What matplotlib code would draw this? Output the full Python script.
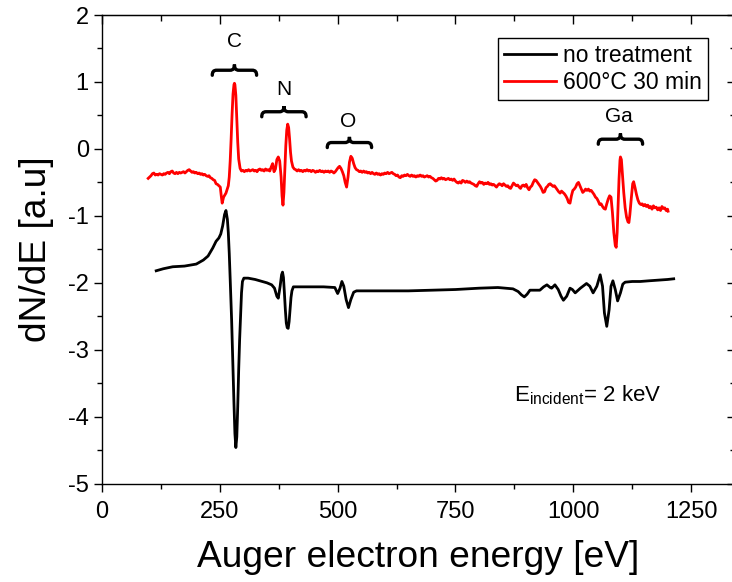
import numpy as np
import matplotlib
matplotlib.use('Agg')
import matplotlib.pyplot as plt
from matplotlib.path import Path
from matplotlib.patches import PathPatch
from matplotlib.ticker import MultipleLocator

plt.rcParams['font.family'] = ['Liberation Sans', 'DejaVu Sans']
plt.rcParams['mathtext.fontset'] = 'custom'
plt.rcParams['mathtext.rm'] = 'Liberation Sans'
plt.rcParams['axes.unicode_minus'] = False

# AES spectrum, untreated sample (eV, dN/dE)
energy_untreated = [115, 130, 150, 175, 200, 215, 225, 235, 242, 248, 252, 256, 260, 263, 266,
                    268, 270, 272, 275, 278, 280, 282, 284, 286, 288, 290, 292, 294, 296, 298,
                    301, 310, 325, 340, 350, 360, 366, 371, 374, 378, 381, 383, 385, 387, 389,
                    391, 393, 395, 397, 399, 401, 403, 406, 415, 440, 470, 494, 500, 505, 509,
                    513, 518, 523, 528, 534, 540, 560, 590, 620, 650, 700, 750, 800, 840, 872,
                    883, 890, 896, 902, 908, 918, 929, 937, 944, 951, 954, 961, 968, 974, 979,
                    986, 993, 998, 1004, 1015, 1028, 1035, 1042, 1050, 1057, 1062, 1066, 1071,
                    1076, 1080, 1084, 1089, 1094, 1100, 1105, 1110, 1125, 1142, 1160, 1180, 1200,
                    1213]
signal_untreated = [-1.82, -1.79, -1.76, -1.75, -1.72, -1.66, -1.60, -1.48, -1.38, -1.33, -1.27,
                    -1.15, -0.98, -0.92, -1.05, -1.25, -1.56, -1.95, -2.55, -3.30, -3.80, -4.25,
                    -4.46, -4.30, -3.85, -3.30, -2.85, -2.50, -2.15, -1.98, -1.93, -1.93, -1.95,
                    -1.98, -2.00, -2.03, -2.08, -2.20, -2.23, -2.05, -1.88, -1.84, -1.92, -2.15,
                    -2.40, -2.60, -2.67, -2.68, -2.58, -2.40, -2.22, -2.12, -2.06, -2.06, -2.06,
                    -2.06, -2.07, -2.16, -2.08, -1.98, -2.05, -2.25, -2.37, -2.25, -2.14, -2.12,
                    -2.12, -2.12, -2.12, -2.12, -2.11, -2.10, -2.08, -2.07, -2.09, -2.13, -2.18,
                    -2.21, -2.17, -2.11, -2.11, -2.11, -2.06, -2.03, -2.07, -2.08, -2.03, -2.10,
                    -2.20, -2.26, -2.20, -2.08, -2.10, -2.15, -2.08, -2.01, -2.05, -2.15, -2.05,
                    -1.88, -2.05, -2.45, -2.65, -2.40, -2.05, -1.97, -2.10, -2.27, -2.15, -2.02,
                    -1.99, -1.98, -1.98, -1.97, -1.96, -1.95, -1.94]

# AES spectrum after annealing at 600 C for 30 min
energy_annealed = [98, 101, 104, 107, 110, 113, 116, 119, 122, 125, 128, 131, 134, 137, 140, 143,
                   146, 149, 152, 155, 158, 161, 164, 167, 170, 173, 176, 179, 182, 185, 188, 191,
                   194, 197, 200, 203, 206, 209, 212, 215, 218, 221, 224, 227, 230, 233, 236, 239,
                   242, 245, 248, 251, 253, 255, 258, 263, 268, 270, 272, 274, 276, 278, 280, 281,
                   282, 284, 286, 288, 290, 293, 296, 299, 302, 305, 308, 311, 314, 317, 320, 323,
                   326, 329, 332, 335, 338, 341, 344, 347, 350, 353, 356, 359, 362, 365, 368, 371,
                   374, 377, 380, 382, 384, 386, 388, 390, 392, 394, 396, 398, 400, 402, 405, 408,
                   411, 414, 417, 420, 423, 426, 429, 432, 435, 438, 441, 444, 447, 450, 453, 456,
                   459, 462, 465, 468, 471, 474, 477, 480, 483, 486, 489, 492, 495, 498, 501, 504,
                   507, 510, 513, 516, 519, 522, 525, 528, 531, 534, 537, 540, 543, 546, 549, 552,
                   555, 558, 561, 564, 567, 570, 573, 576, 579, 582, 585, 588, 591, 594, 597, 600,
                   603, 606, 609, 612, 615, 618, 621, 624, 627, 630, 633, 636, 639, 642, 645, 648,
                   651, 654, 657, 660, 663, 666, 669, 672, 675, 678, 681, 684, 687, 690, 693, 696,
                   699, 702, 705, 708, 711, 714, 717, 720, 723, 726, 729, 732, 735, 738, 741, 744,
                   747, 750, 753, 756, 759, 762, 765, 768, 771, 774, 777, 780, 783, 786, 789, 792,
                   795, 798, 801, 804, 807, 810, 813, 816, 819, 822, 825, 828, 831, 834, 837, 840,
                   843, 846, 849, 852, 855, 858, 861, 864, 867, 870, 873, 876, 879, 882, 885, 888,
                   891, 894, 897, 900, 903, 906, 909, 912, 915, 918, 921, 924, 927, 930, 933, 936,
                   939, 942, 945, 948, 951, 954, 957, 960, 963, 966, 969, 972, 975, 978, 981, 984,
                   987, 990, 993, 996, 999, 1002, 1005, 1008, 1011, 1014, 1017, 1020, 1023, 1026,
                   1029, 1032, 1035, 1038, 1041, 1044, 1047, 1050, 1053, 1056, 1059, 1062, 1065,
                   1068, 1071, 1074, 1077, 1080, 1083, 1086, 1089, 1091, 1093, 1095, 1097, 1099,
                   1100, 1102, 1104, 1107, 1110, 1113, 1116, 1118, 1120, 1123, 1126, 1128, 1131,
                   1134, 1137, 1140, 1143, 1146, 1149, 1152, 1155, 1158, 1161, 1164, 1167, 1170,
                   1173, 1176, 1179, 1182, 1185, 1188, 1191, 1194, 1197, 1200, 1201]
signal_annealed = [-0.44, -0.42, -0.40, -0.37, -0.36, -0.39, -0.38, -0.39, -0.37, -0.38, -0.39,
                   -0.37, -0.38, -0.36, -0.35, -0.37, -0.34, -0.33, -0.36, -0.37, -0.35, -0.37,
                   -0.35, -0.36, -0.35, -0.34, -0.36, -0.34, -0.32, -0.31, -0.33, -0.35, -0.34,
                   -0.36, -0.35, -0.37, -0.36, -0.38, -0.37, -0.39, -0.38, -0.40, -0.41, -0.40,
                   -0.43, -0.44, -0.46, -0.47, -0.52, -0.53, -0.55, -0.57, -0.70, -0.81, -0.72,
                   -0.66, -0.55, -0.42, -0.18, 0.15, 0.52, 0.82, 0.96, 0.98, 0.96, 0.80, 0.45,
                   0.10, -0.15, -0.29, -0.33, -0.32, -0.34, -0.32, -0.33, -0.31, -0.33, -0.32,
                   -0.31, -0.33, -0.32, -0.34, -0.31, -0.30, -0.32, -0.31, -0.33, -0.30, -0.32,
                   -0.31, -0.33, -0.27, -0.22, -0.34, -0.30, -0.16, -0.12, -0.18, -0.42, -0.70,
                   -0.84, -0.65, -0.30, 0.05, 0.28, 0.37, 0.32, 0.15, -0.05, -0.18, -0.27, -0.30,
                   -0.31, -0.33, -0.31, -0.33, -0.32, -0.34, -0.32, -0.33, -0.31, -0.33, -0.32,
                   -0.34, -0.32, -0.33, -0.35, -0.33, -0.34, -0.32, -0.34, -0.33, -0.35, -0.33,
                   -0.34, -0.33, -0.35, -0.33, -0.34, -0.36, -0.34, -0.31, -0.28, -0.26, -0.29,
                   -0.34, -0.40, -0.50, -0.57, -0.42, -0.20, -0.11, -0.14, -0.22, -0.28, -0.31,
                   -0.32, -0.34, -0.33, -0.35, -0.33, -0.35, -0.34, -0.36, -0.35, -0.37, -0.35,
                   -0.37, -0.38, -0.36, -0.38, -0.37, -0.39, -0.37, -0.38, -0.36, -0.37, -0.35,
                   -0.37, -0.36, -0.35, -0.37, -0.38, -0.40, -0.39, -0.42, -0.43, -0.40, -0.41,
                   -0.39, -0.40, -0.38, -0.40, -0.41, -0.39, -0.41, -0.40, -0.42, -0.40, -0.41,
                   -0.39, -0.41, -0.40, -0.42, -0.41, -0.40, -0.42, -0.41, -0.43, -0.44, -0.46,
                   -0.48, -0.47, -0.44, -0.45, -0.43, -0.45, -0.44, -0.46, -0.45, -0.44, -0.46,
                   -0.45, -0.47, -0.45, -0.48, -0.50, -0.51, -0.49, -0.51, -0.47, -0.48, -0.50,
                   -0.48, -0.50, -0.49, -0.51, -0.52, -0.53, -0.55, -0.56, -0.52, -0.49, -0.51,
                   -0.50, -0.53, -0.51, -0.52, -0.50, -0.53, -0.52, -0.54, -0.53, -0.55, -0.57,
                   -0.54, -0.52, -0.53, -0.55, -0.52, -0.54, -0.56, -0.55, -0.58, -0.59, -0.55,
                   -0.51, -0.53, -0.55, -0.54, -0.57, -0.59, -0.55, -0.54, -0.56, -0.53, -0.58,
                   -0.61, -0.57, -0.55, -0.50, -0.46, -0.47, -0.50, -0.53, -0.56, -0.60, -0.65,
                   -0.64, -0.58, -0.56, -0.53, -0.52, -0.54, -0.56, -0.55, -0.58, -0.61, -0.64,
                   -0.66, -0.63, -0.65, -0.67, -0.70, -0.74, -0.80, -0.81, -0.70, -0.62, -0.60,
                   -0.57, -0.52, -0.50, -0.55, -0.60, -0.65, -0.63, -0.60, -0.62, -0.60, -0.63,
                   -0.62, -0.65, -0.68, -0.72, -0.74, -0.78, -0.83, -0.82, -0.86, -0.89, -0.90,
                   -0.82, -0.75, -0.70, -0.72, -0.95, -1.25, -1.44, -1.47, -1.25, -0.85, -0.45,
                   -0.17, -0.12, -0.16, -0.35, -0.65, -0.88, -1.02, -1.09, -1.10, -0.98, -0.74,
                   -0.52, -0.49, -0.58, -0.68, -0.76, -0.81, -0.83, -0.82, -0.85, -0.83, -0.86,
                   -0.84, -0.88, -0.86, -0.90, -0.85, -0.88, -0.87, -0.91, -0.88, -0.92, -0.86,
                   -0.89, -0.88, -0.92, -0.90, -0.93]

# element markers: label, brace centre (eV), brace tip, label position
elements = ['C', 'N', 'O', 'Ga']
brace_center = [281, 386, 525, 1100]
brace_tip = [1.26, 0.64, 0.18, 0.23]
label_x = [282, 386, 522, 1097]
label_y = [1.60, 0.89, 0.41, 0.48]


def draw_brace(ax, xc, ytip, half=47, h=0.16, **kw):
    y0 = ytip - h
    yb = y0 + 0.47 * h
    verts = [(xc - half, y0),
             (xc - half, y0 + 0.3 * h), (xc - half + 0.05 * half, yb), (xc - half + 0.2 * half, yb),
             (xc - 0.2 * half, yb),
             (xc - 0.05 * half, yb), (xc, yb + 0.2 * h), (xc, ytip),
             (xc, yb + 0.2 * h), (xc + 0.05 * half, yb), (xc + 0.2 * half, yb),
             (xc + half - 0.2 * half, yb),
             (xc + half - 0.05 * half, yb), (xc + half, y0 + 0.3 * h), (xc + half, y0)]
    codes = [Path.MOVETO] + [Path.CURVE4] * 3 + [Path.LINETO] + [Path.CURVE4] * 6 + \
            [Path.LINETO] + [Path.CURVE4] * 3
    ax.add_patch(PathPatch(Path(verts, codes), fill=False, **kw))


fig = plt.figure(figsize=(7.32, 5.82), dpi=100)
ax = fig.add_axes([102 / 732, 1 - 483.7 / 582, 632.5 / 732, 468.7 / 582])

ax.plot(energy_untreated, signal_untreated, color='black', lw=2.0, label='no treatment')
ax.plot(energy_annealed, signal_annealed, color='red', lw=2.0, label='600°C 30 min')

for name, xc, yt, lx, ly in zip(elements, brace_center, brace_tip, label_x, label_y):
    draw_brace(ax, xc, yt, color='black', lw=2.4, capstyle='round')
    ax.text(lx, ly, name, fontsize=15, ha='center', va='center')

ax.text(874, -3.775, r'E$_\mathregular{incident}$= 2 keV', fontsize=16, ha='left', va='baseline')

ax.set_xlim(0, 1342)
ax.set_ylim(-5, 2)
ax.xaxis.set_major_locator(MultipleLocator(250))
ax.xaxis.set_minor_locator(MultipleLocator(125))
ax.yaxis.set_major_locator(MultipleLocator(1))
ax.yaxis.set_minor_locator(MultipleLocator(0.5))
ax.tick_params(which='major', direction='out', length=5.5, width=1, labelsize=17)
ax.tick_params(which='minor', direction='out', length=3.5, width=1)
ax.tick_params(axis='x', pad=7)
ax.tick_params(axis='y', pad=4)
for s in ax.spines.values():
    s.set_linewidth(1.0)

# mirrored ticks on top and right pointing inwards
top = ax.secondary_xaxis('top')
top.xaxis.set_major_locator(MultipleLocator(250))
top.xaxis.set_minor_locator(MultipleLocator(125))
top.tick_params(which='major', direction='in', length=6.5, width=1, labeltop=False)
top.tick_params(which='minor', direction='in', length=4, width=1)
right = ax.secondary_yaxis('right')
right.yaxis.set_major_locator(MultipleLocator(1))
right.yaxis.set_minor_locator(MultipleLocator(0.5))
right.tick_params(which='major', direction='in', length=5.5, width=1, labelright=False)
right.tick_params(which='minor', direction='in', length=3.5, width=1)

ax.set_xlabel('Auger electron energy [eV]', fontsize=26.7, labelpad=12)
ax.set_ylabel('dN/dE [a.u]', fontsize=26.7, labelpad=10)

leg = ax.legend(loc='upper right', bbox_to_anchor=(0.958, 0.951), fontsize=16.5, frameon=True,
                fancybox=False, edgecolor='black', framealpha=1, handlelength=2.3,
                handletextpad=0.3, labelspacing=0.2, borderpad=0.25, borderaxespad=0)
leg.get_frame().set_linewidth(1.0)

fig.savefig('out.png', dpi=100)
